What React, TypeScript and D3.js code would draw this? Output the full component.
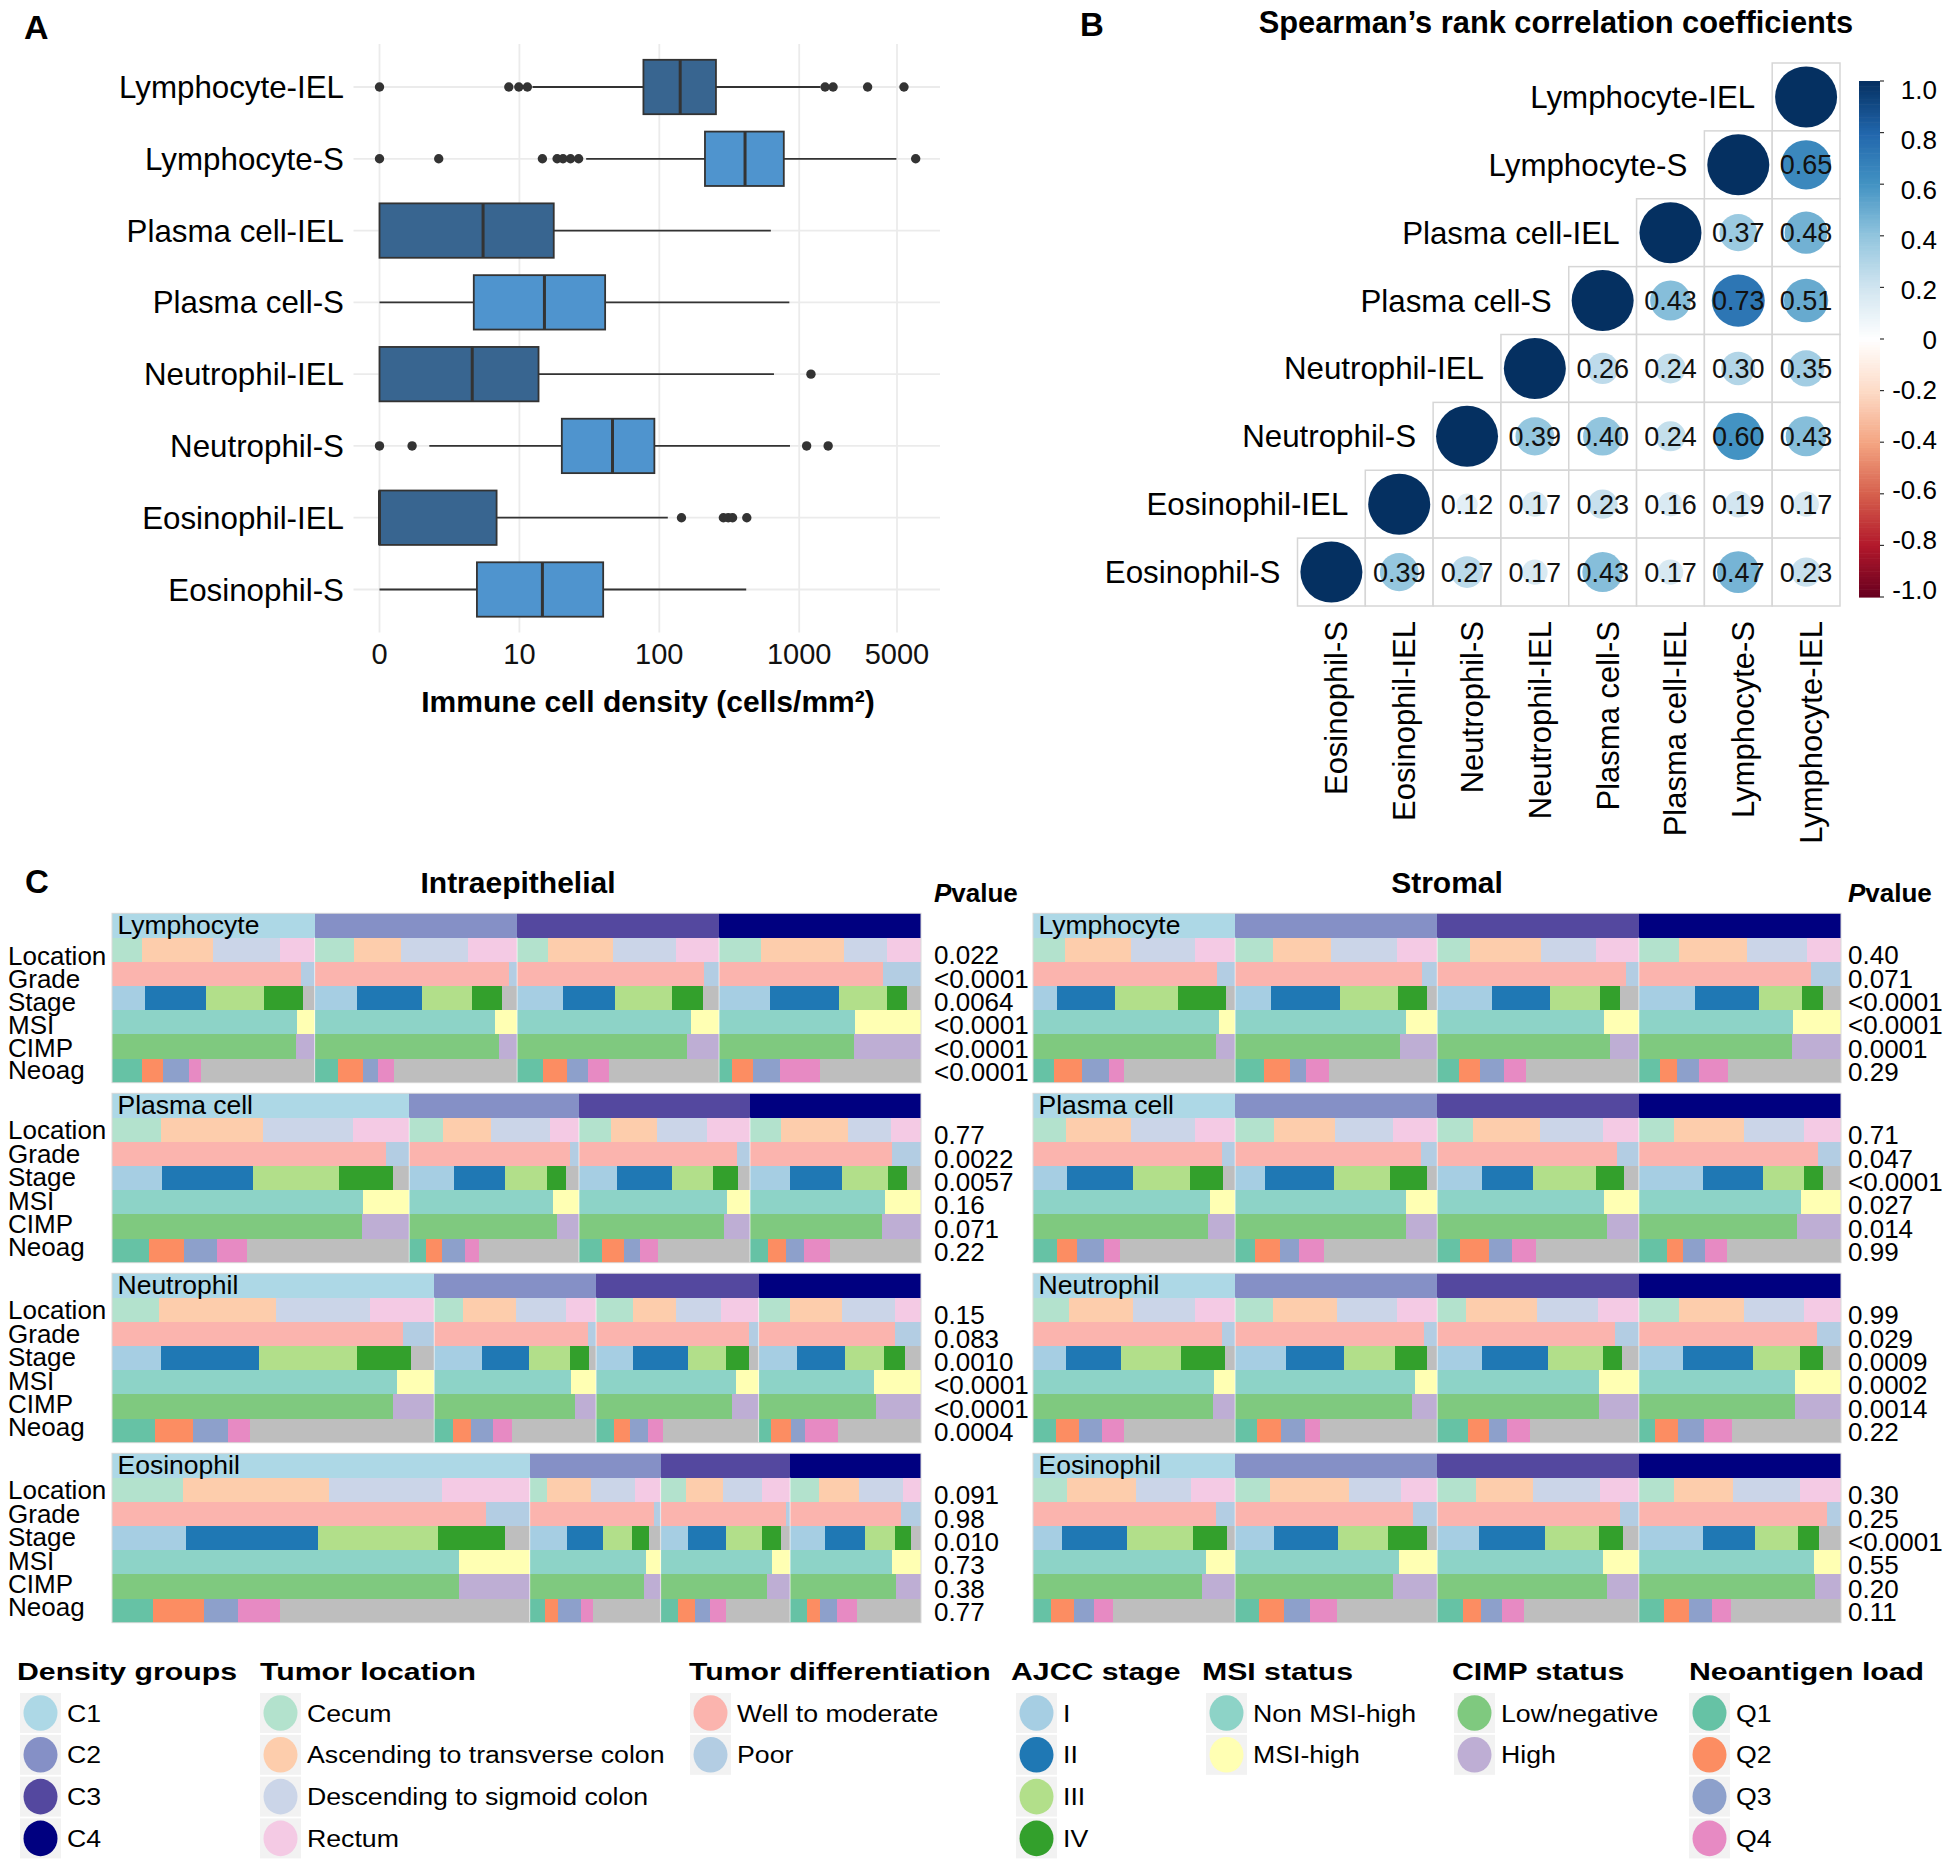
import React from "react";
import * as d3 from "d3";

const FONT = "'Liberation Sans', Arial, Helvetica, sans-serif";

// ---------------- Panel A data ----------------
const cellTypes = ["Lymphocyte-IEL", "Lymphocyte-S", "Plasma cell-IEL", "Plasma cell-S", "Neutrophil-IEL", "Neutrophil-S", "Eosinophil-IEL", "Eosinophil-S"];
const boxLow = [12.4, 30, 0, 0, 0, 2.27, 0, 0];
const boxQ1 = [77, 212, 0, 4.72, 0, 20.1, 0, 4.97];
const boxMedian = [141, 410, 5.5, 15.1, 4.6, 46.3, 0, 14.6];
const boxQ3 = [254, 776, 17.6, 41, 13.7, 92.2, 6.87, 39.7];
const boxHigh = [1420, 4950, 627, 850, 660, 859, 115, 418];
const boxOutliers = [
  [0, 8.4, 9.9, 11.4, 1531, 1746, 3083, 5608],
  [0, 2.65, 14.6, 18.6, 20.5, 23.2, 26.5, 6800],
  [],
  [],
  [1213],
  [0, 1.71, 1130, 1610],
  [144, 287, 311, 334, 422],
  [],
];
const densityTicks = [0, 10, 100, 1000, 5000];

// ---------------- Panel B data ----------------
const corrColumns = ["Eosinophil-S", "Eosinophil-IEL", "Neutrophil-S", "Neutrophil-IEL", "Plasma cell-S", "Plasma cell-IEL", "Lymphocyte-S", "Lymphocyte-IEL"];
// each row, from its diagonal cell to the right-most column
const corrRows = [
  [1],
  [1, 0.65],
  [1, 0.37, 0.48],
  [1, 0.43, 0.73, 0.51],
  [1, 0.26, 0.24, 0.30, 0.35],
  [1, 0.39, 0.40, 0.24, 0.60, 0.43],
  [1, 0.12, 0.17, 0.23, 0.16, 0.19, 0.17],
  [1, 0.39, 0.27, 0.17, 0.43, 0.17, 0.47, 0.23],
];
const corrBarTicks = [1, 0.8, 0.6, 0.4, 0.2, 0, -0.2, -0.4, -0.6, -0.8, -1];
const rdbuColors = ["#67001F", "#B2182B", "#D6604D", "#F4A582", "#FDDBC7", "#FFFFFF", "#D1E5F0", "#92C5DE", "#4393C3", "#2166AC", "#053061"];

// ---------------- Panel C data ----------------
const heatCellTypes = ["Lymphocyte", "Plasma cell", "Neutrophil", "Eosinophil"];
const annotRows = ["Location", "Grade", "Stage", "MSI", "CIMP", "Neoag"];
const ieGroupSizes = [[308, 308, 307, 307], [452, 258, 260, 260], [490, 246, 247, 247], [635, 199, 197, 199]];
const stGroupSizes = [[341, 341, 340, 341], [341, 341, 340, 341], [341, 341, 340, 341], [341, 341, 340, 341]];

const ieLymphocyte = [
  [[45, 108, 103, 52], [287, 21], [50, 93, 88, 59, 18], [282, 26], [280, 28], [45, 32, 40, 19, 172]],
  [[60, 72, 102, 74], [295, 13], [65, 99, 76, 45, 23], [275, 33], [281, 27], [36, 37, 24, 23, 188]],
  [[47, 99, 95, 66], [284, 23], [69, 80, 87, 47, 24], [264, 43], [258, 49], [40, 36, 31, 32, 168]],
  [[64, 126, 66, 51], [249, 58], [77, 105, 73, 30, 22], [207, 100], [205, 102], [20, 32, 41, 61, 153]],
];
const iePlasma = [
  [[75, 155, 137, 85], [417, 35], [76, 139, 130, 82, 25], [381, 71], [380, 72], [57, 52, 51, 46, 246]],
  [[51, 73, 90, 44], [244, 14], [68, 77, 65, 28, 20], [218, 40], [224, 34], [25, 24, 35, 22, 152]],
  [[49, 70, 76, 65], [240, 20], [58, 83, 62, 39, 18], [225, 35], [221, 39], [35, 34, 24, 27, 140]],
  [[47, 102, 65, 46], [216, 44], [61, 79, 70, 28, 22], [206, 54], [201, 59], [27, 28, 27, 39, 139]],
];
const ieNeutrophil = [
  [[72, 178, 142, 98], [442, 48], [74, 150, 148, 83, 35], [434, 56], [427, 63], [65, 58, 53, 34, 280]],
  [[44, 80, 76, 46], [234, 12], [73, 71, 62, 29, 11], [208, 38], [214, 32], [28, 28, 34, 28, 128]],
  [[56, 65, 69, 57], [233, 14], [56, 83, 59, 35, 14], [213, 34], [207, 40], [27, 24, 28, 23, 145]],
  [[48, 79, 81, 39], [207, 40], [59, 73, 58, 32, 25], [175, 72], [178, 69], [19, 30, 22, 50, 126]],
];
const ieEosinophil = [
  [[108, 222, 171, 134], [568, 67], [112, 201, 182, 102, 38], [527, 108], [527, 108], [63, 77, 52, 63, 380]],
  [[27, 66, 67, 39], [189, 10], [57, 55, 43, 26, 18], [177, 22], [174, 25], [23, 20, 35, 19, 102]],
  [[39, 56, 60, 42], [190, 7], [41, 59, 55, 28, 14], [170, 27], [162, 35], [27, 25, 23, 24, 98]],
  [[44, 61, 67, 27], [168, 31], [53, 61, 45, 25, 15], [155, 44], [161, 38], [26, 20, 25, 30, 98]],
];
const stLymphocyte = [
  [[54, 112, 107, 68], [310, 31], [41, 97, 107, 81, 15], [313, 28], [309, 32], [35, 47, 46, 25, 188]],
  [[64, 97, 112, 68], [316, 25], [61, 116, 97, 49, 18], [288, 53], [278, 63], [49, 43, 27, 40, 182]],
  [[56, 119, 92, 73], [318, 22], [93, 97, 84, 34, 32], [282, 58], [291, 49], [36, 36, 40, 37, 191]],
  [[67, 116, 101, 57], [290, 51], [94, 109, 73, 35, 30], [260, 81], [258, 83], [36, 28, 37, 50, 190]],
];
const stPlasma = [
  [[56, 109, 108, 68], [319, 22], [58, 111, 95, 56, 21], [298, 43], [296, 45], [40, 34, 45, 27, 195]],
  [[65, 104, 97, 75], [313, 28], [51, 116, 94, 62, 18], [289, 52], [289, 52], [33, 42, 32, 43, 191]],
  [[60, 114, 105, 61], [303, 37], [75, 87, 105, 48, 25], [282, 58], [286, 54], [38, 50, 38, 40, 174]],
  [[60, 118, 101, 62], [302, 39], [108, 101, 70, 31, 31], [274, 67], [267, 74], [47, 27, 37, 38, 192]],
];
const stNeutrophil = [
  [[60, 109, 105, 67], [318, 23], [56, 92, 102, 74, 17], [305, 36], [303, 38], [38, 40, 38, 38, 187]],
  [[64, 107, 102, 68], [318, 23], [86, 97, 87, 53, 18], [304, 37], [298, 43], [37, 40, 40, 26, 198]],
  [[49, 120, 102, 69], [299, 41], [75, 112, 92, 32, 29], [272, 68], [273, 67], [52, 36, 30, 38, 184]],
  [[67, 111, 101, 62], [301, 40], [74, 118, 79, 40, 30], [263, 78], [263, 78], [28, 38, 44, 47, 184]],
];
const stEosinophil = [
  [[57, 116, 93, 75], [309, 32], [49, 110, 111, 58, 13], [292, 49], [285, 56], [31, 39, 33, 32, 206]],
  [[59, 133, 88, 61], [300, 41], [65, 108, 85, 66, 17], [276, 65], [267, 74], [40, 42, 45, 45, 169]],
  [[66, 96, 113, 65], [308, 32], [71, 110, 92, 40, 27], [279, 61], [286, 54], [43, 30, 36, 38, 193]],
  [[59, 100, 113, 69], [317, 24], [109, 87, 73, 35, 37], [296, 45], [297, 44], [42, 42, 39, 33, 185]],
];
const iePvalues = [
  ["0.022", "<0.0001", "0.0064", "<0.0001", "<0.0001", "<0.0001"],
  ["0.77", "0.0022", "0.0057", "0.16", "0.071", "0.22"],
  ["0.15", "0.083", "0.0010", "<0.0001", "<0.0001", "0.0004"],
  ["0.091", "0.98", "0.010", "0.73", "0.38", "0.77"],
];
const stPvalues = [
  ["0.40", "0.071", "<0.0001", "<0.0001", "0.0001", "0.29"],
  ["0.71", "0.047", "<0.0001", "0.027", "0.014", "0.99"],
  ["0.99", "0.029", "0.0009", "0.0002", "0.0014", "0.22"],
  ["0.30", "0.25", "<0.0001", "0.55", "0.20", "0.11"],
];

// colours
const densityColors = ["#ADD8E6", "#8590C6", "#54489F", "#000080"];
const locationColors = ["#B3E2CD", "#FDCDAC", "#CBD5E8", "#F4CAE4"];
const gradeColors = ["#FBB4AE", "#B3CDE3"];
const stageColors = ["#A6CEE3", "#1F78B4", "#B2DF8A", "#33A02C", "#BEBEBE"];
const msiColors = ["#8DD3C7", "#FFFFB3"];
const cimpColors = ["#7FC97F", "#BEAED4"];
const neoagColors = ["#66C2A5", "#FC8D62", "#8DA0CB", "#E78AC3", "#BEBEBE"];
const rowColorSets = [locationColors, gradeColors, stageColors, msiColors, cimpColors, neoagColors];

// legend
const legendTitles = ["Density groups", "Tumor location", "Tumor differentiation", "AJCC stage", "MSI status", "CIMP status", "Neoantigen  load"];
const densityLabels = ["C1", "C2", "C3", "C4"];
const locationLabels = ["Cecum", "Ascending to transverse colon", "Descending to sigmoid colon", "Rectum"];
const gradeLabels = ["Well to moderate", "Poor"];
const stageLabels = ["I", "II", "III", "IV"];
const msiLabels = ["Non MSI-high", "MSI-high"];
const cimpLabels = ["Low/negative", "High"];
const neoagLabels = ["Q1", "Q2", "Q3", "Q4"];

// ---------------- helpers ----------------
function SText({ x, y, sx = 1, children, ...rest }: any) {
  return (
    <text transform={`translate(${x},${y}) scale(${sx},1)`} {...rest}>
      {children}
    </text>
  );
}

// ---------------- Panel A ----------------
function PanelA() {
  const x = d3.scaleLog().domain([1, 5000]).range([379.5, 897]);
  const px = (v: number) => x(Math.max(v, 1));
  const y = d3.scalePoint<string>().domain(cellTypes).range([87, 589.5]);
  const step = (589.5 - 87) / 7;
  const plotL = 353.5, plotR = 940, plotT = 87 - step * 0.6, plotB = 589.5 + step * 0.6;
  const half = 27.2;
  const dark = "#333333";
  return (
    <g>
      <text x={24} y={39} fontSize={34} fontWeight="bold">A</text>
      {densityTicks.map((t) => (
        <line key={"v" + t} x1={px(t)} x2={px(t)} y1={plotT} y2={plotB} stroke="#EBEBEB" strokeWidth={1.8} />
      ))}
      {cellTypes.map((c) => (
        <line key={"h" + c} x1={plotL} x2={plotR} y1={y(c)} y2={y(c)} stroke="#EBEBEB" strokeWidth={1.8} />
      ))}
      {cellTypes.map((c, i) => {
        const cy = y(c)!;
        const fill = c.endsWith("IEL") ? "#386590" : "#4F94CE";
        return (
          <g key={c}>
            <line x1={px(boxLow[i])} x2={px(boxQ1[i])} y1={cy} y2={cy} stroke={dark} strokeWidth={1.8} />
            <line x1={px(boxQ3[i])} x2={px(boxHigh[i])} y1={cy} y2={cy} stroke={dark} strokeWidth={1.8} />
            <rect x={px(boxQ1[i])} y={cy - half} width={px(boxQ3[i]) - px(boxQ1[i])} height={half * 2} fill={fill} stroke={dark} strokeWidth={1.8} />
            <line x1={px(boxMedian[i])} x2={px(boxMedian[i])} y1={cy - half} y2={cy + half} stroke={dark} strokeWidth={3} />
            {boxOutliers[i].map((o, k) => (
              <circle key={k} cx={px(o)} cy={cy} r={4.7} fill={dark} />
            ))}
            <text x={344} y={cy + 11} fontSize={31.3} textAnchor="end">{c}</text>
          </g>
        );
      })}
      {densityTicks.map((t) => (
        <text key={"t" + t} x={px(t)} y={664} fontSize={29} textAnchor="middle" fill="#111">{t}</text>
      ))}
      <text x={648} y={712} fontSize={30} fontWeight="bold" textAnchor="middle">Immune cell density (cells/mm²)</text>
    </g>
  );
}

// ---------------- Panel B ----------------
function PanelB() {
  const n = corrColumns.length;
  const left = 1297.5, right = 1840, top = 63, bottom = 606;
  const cw = (right - left) / n, ch = (bottom - top) / n;
  const color = d3.scaleLinear<string>().domain(d3.range(11).map((i) => -1 + i * 0.2)).range(rdbuColors);
  const rMax = 31;
  const barX = 1859, barW = 21, barT = 81, barB = 597;
  const barY = d3.scaleLinear().domain([-1, 1]).range([barB, barT]);
  const labY = d3.scaleLinear().domain([-1, 1]).range([590, 90]);
  const steps = d3.range(0, 200);
  return (
    <g>
      <text x={1080} y={36} fontSize={33} fontWeight="bold">B</text>
      <text x={1556} y={33} fontSize={30.8} fontWeight="bold" textAnchor="middle">Spearman’s rank correlation coefficients</text>
      {corrRows.map((row, i) => {
        const startCol = n - 1 - i;
        const cy = top + ch * (i + 0.5);
        return (
          <g key={i}>
            {row.map((v, k) => {
              const j = startCol + k;
              const cx = left + cw * (j + 0.5);
              return (
                <g key={k}>
                  <rect x={left + cw * j} y={top + ch * i} width={cw} height={ch} fill="#fff" stroke="#D6D6D6" strokeWidth={1.5} />
                  <ellipse cx={cx} cy={cy} rx={rMax * Math.sqrt(Math.abs(v))} ry={rMax * Math.sqrt(Math.abs(v)) * 0.985} fill={color(v)} />
                  {k > 0 && (
                    <text x={cx} y={cy + 9.5} fontSize={27} textAnchor="middle" fill="#111">{v.toFixed(2)}</text>
                  )}
                </g>
              );
            })}
            <text x={left + cw * startCol - 17} y={cy + 11} fontSize={31.3} textAnchor="end">{corrColumns[n - 1 - i]}</text>
          </g>
        );
      })}
      {corrColumns.map((c, j) => (
        <text key={c} transform={`translate(${left + cw * (j + 0.5) + 16},621) rotate(-90)`} fontSize={31} textAnchor="end">{c}</text>
      ))}
      {steps.map((s) => {
        const v0 = -1 + (s / 200) * 2;
        const v1 = -1 + ((s + 1) / 200) * 2;
        return <rect key={s} x={barX} y={barY(v1)} width={barW} height={barY(v0) - barY(v1) + 0.6} fill={color((v0 + v1) / 2)} />;
      })}
      {corrBarTicks.map((t) => (
        <g key={t}>
          <line x1={barX + barW} x2={barX + barW + 4} y1={barY(t)} y2={barY(t)} stroke="#333" strokeWidth={1.2} />
          <text x={1937} y={labY(t) + 9} fontSize={26} textAnchor="end">{t === 0 ? "0" : t.toFixed(1)}</text>
        </g>
      ))}
    </g>
  );
}

// ---------------- Panel C ----------------
function HeatBlock({ x0, x1, top, groups, data, label, pvals, pX, rowLabels, labOff, labStep }: any) {
  const rh = 24.2;
  const total = d3.sum(groups as number[]);
  const gx = d3.scaleLinear().domain([0, total]).range([x0, x1]);
  const cum = d3.cumsum(groups as number[]);
  const starts = [0, ...Array.from(cum).slice(0, -1)];
  return (
    <g>
      {groups.map((g: number, gi: number) => {
        const gs = gx(starts[gi]), ge = gx(starts[gi] + g);
        return (
          <g key={gi} shapeRendering="crispEdges">
            <rect x={gs} y={top} width={ge - gs} height={rh} fill={densityColors[gi]} />
            {data[gi].map((seg: number[], ri: number) => {
              const s = d3.scaleLinear().domain([0, d3.sum(seg)]).range([gs, ge]);
              const c = d3.cumsum(seg);
              return seg.map((w: number, si: number) => {
                const a = s(c[si] - w), b = s(c[si]);
                return <rect key={ri + "-" + si} x={a} y={top + rh * (ri + 1)} width={Math.max(0, b - a) + 0.4} height={rh + 0.3} fill={rowColorSets[ri][si]} />;
              });
            })}
          </g>
        );
      })}
      {groups.slice(1).map((_: number, gi: number) => (
        <line key={"sep" + gi} x1={gx(starts[gi + 1])} x2={gx(starts[gi + 1])} y1={top + rh} y2={top + rh * 7} stroke="#ffffff" strokeOpacity={0.55} strokeWidth={1.2} />
      ))}
      <rect x={x0} y={top} width={x1 - x0} height={rh * 7} fill="none" stroke="#DADADA" strokeWidth={1} />
      <text x={x0 + 5.5} y={top + 21} fontSize={26.5}>{label}</text>
      {rowLabels && annotRows.map((r, ri) => (
        <text key={r} x={8} y={top + labOff + labStep * ri} fontSize={26}>{r}</text>
      ))}
      {pvals.map((p: string, ri: number) => (
        <text key={ri} x={pX} y={top + 51 + 23.3 * ri} fontSize={26}>{p}</text>
      ))}
    </g>
  );
}

function PanelC() {
  const ieData = [ieLymphocyte, iePlasma, ieNeutrophil, ieEosinophil];
  const stData = [stLymphocyte, stPlasma, stNeutrophil, stEosinophil];
  const blockTops = heatCellTypes.map((_, i) => 913.3 + 180 * i);
  const labOffs = [52, 46, 46, 46];
  const labSteps = [22.8, 23.4, 23.4, 23.4];
  return (
    <g>
      <text x={25} y={893} fontSize={33} fontWeight="bold">C</text>
      <text x={518} y={893} fontSize={30} fontWeight="bold" textAnchor="middle">Intraepithelial</text>
      <text x={1447} y={893} fontSize={30} fontWeight="bold" textAnchor="middle">Stromal</text>
      {[934, 1848].map((px) => (
        <text key={px} x={px} y={902} fontSize={26} fontWeight="bold">
          <tspan fontStyle="italic">P</tspan>value
        </text>
      ))}
      {heatCellTypes.map((ct, i) => (
        <HeatBlock key={"ie" + ct} x0={112} x1={921} top={blockTops[i]} groups={ieGroupSizes[i]} data={ieData[i]} label={ct} pvals={iePvalues[i]} pX={934} rowLabels={true} labOff={labOffs[i]} labStep={labSteps[i]} />
      ))}
      {heatCellTypes.map((ct, i) => (
        <HeatBlock key={"st" + ct} x0={1033} x1={1841} top={blockTops[i]} groups={stGroupSizes[i]} data={stData[i]} label={ct} pvals={stPvalues[i]} pX={1848} rowLabels={false} labOff={labOffs[i]} labStep={labSteps[i]} />
      ))}
    </g>
  );
}

// ---------------- Legend ----------------
function Legend() {
  const titleX = [17, 260, 689, 1011, 1202, 1452, 1689];
  const keyX = [20, 260, 690, 1016, 1206, 1454, 1689];
  const labels = [densityLabels, locationLabels, gradeLabels, stageLabels, msiLabels, cimpLabels, neoagLabels];
  const colors = [densityColors, locationColors, gradeColors, stageColors, msiColors, cimpColors, neoagColors];
  const key0 = 1713, step = 41.8;
  return (
    <g>
      {legendTitles.map((t, i) => (
        <g key={t}>
          <SText x={titleX[i]} y={1680} sx={1.26} fontSize={24} fontWeight="bold">{t}</SText>
          {labels[i].map((l, k) => {
            const cy = key0 + step * k;
            return (
              <g key={l}>
                <rect x={keyX[i]} y={cy - 20} width={41} height={40} fill="#F2F2F2" />
                <ellipse cx={keyX[i] + 20.5} cy={cy} rx={17} ry={17.8} fill={colors[i][k]} />
                <SText x={keyX[i] + 47} y={cy + 8.5} sx={1.09} fontSize={24.5}>{l}</SText>
              </g>
            );
          })}
        </g>
      ))}
    </g>
  );
}

export default function App() {
  return (
    <svg width={1950} height={1869} viewBox="0 0 1950 1869" style={{ position: "absolute", left: 0, top: 0, background: "#fff" }} fontFamily={FONT}>
      <rect width={1950} height={1869} fill="#fff" />
      <PanelA />
      <PanelB />
      <PanelC />
      <Legend />
    </svg>
  );
}
